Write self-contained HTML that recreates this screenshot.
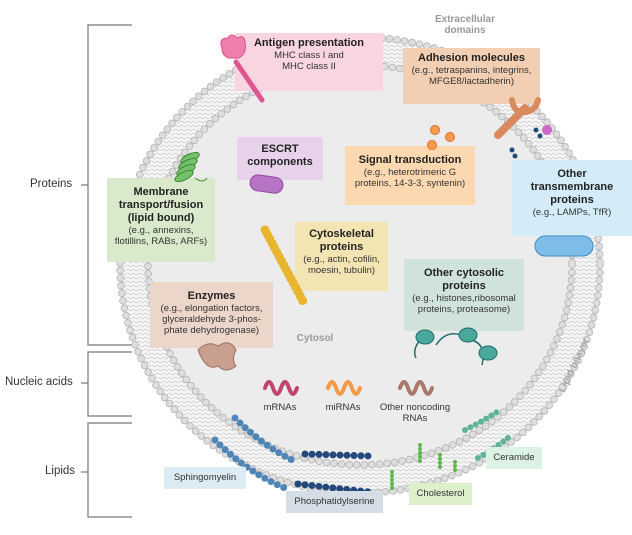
<!DOCTYPE html>
<html><head><meta charset="utf-8"><style>
body{margin:0;width:632px;height:535px;background:#fff;overflow:hidden;font-family:"Liberation Sans",sans-serif;}
svg{position:absolute;left:0;top:0}
.b{position:absolute;text-align:center;color:#333;font-size:9.5px;line-height:11px;box-sizing:border-box;padding-top:4px}
.b b{display:block;font-size:11px;line-height:13px;color:#222}
.l{position:absolute;font-size:11.5px;color:#333}
</style></head><body>
<svg width="632" height="535" viewBox="0 0 632 535">
<defs>
<pattern id="w" width="6" height="4" patternUnits="userSpaceOnUse"><path d="M0 2 Q1.5 0 3 2 T6 2" fill="none" stroke="#bbb" stroke-width="0.6"/></pattern>
</defs>
<g stroke="#777" stroke-width="1.2" fill="none">
<path d="M132 25H88V345H132"/><path d="M81 185H88"/>
<path d="M132 352H88V416H132"/><path d="M81 383H88"/>
<path d="M132 423H88V517H132"/><path d="M81 472H88"/>
</g>
<ellipse cx="360" cy="265" rx="240" ry="228" fill="#f6f6f6"/>
<ellipse cx="360" cy="265" rx="240" ry="228" fill="url(#w)"/>
<ellipse cx="360" cy="265" rx="212" ry="200" fill="#ececec"/>
<ellipse cx="360" cy="265" rx="240" ry="228" fill="none" stroke="#b0b0b0" stroke-width="7.5" stroke-dasharray="0 7.6" stroke-linecap="round"/>
<ellipse cx="360" cy="265" rx="240" ry="228" fill="none" stroke="#dedede" stroke-width="6" stroke-dasharray="0 7.6" stroke-linecap="round"/>
<ellipse cx="360" cy="265" rx="212" ry="200" fill="none" stroke="#b0b0b0" stroke-width="7.5" stroke-dasharray="0 7.6" stroke-linecap="round"/>
<ellipse cx="360" cy="265" rx="212" ry="200" fill="none" stroke="#dedede" stroke-width="6" stroke-dasharray="0 7.6" stroke-linecap="round"/>
<path d="M215 440 Q250 475 290 490" fill="none" stroke="#4f86b5" stroke-width="7" stroke-dasharray="0 7" stroke-linecap="round"/>
<path d="M235 418 Q262 445 292 460" fill="none" stroke="#4f86b5" stroke-width="7" stroke-dasharray="0 7" stroke-linecap="round"/>
<path d="M305 454 L370 456" fill="none" stroke="#24487a" stroke-width="7" stroke-dasharray="0 7" stroke-linecap="round"/>
<path d="M298 484 L370 492" fill="none" stroke="#24487a" stroke-width="7" stroke-dasharray="0 7" stroke-linecap="round"/>
<path d="M465 430 Q485 420 500 410" fill="none" stroke="#5fb39a" stroke-width="6" stroke-dasharray="0 6" stroke-linecap="round"/>
<path d="M478 458 Q495 448 508 438" fill="none" stroke="#5fb39a" stroke-width="6" stroke-dasharray="0 6" stroke-linecap="round"/>
<g fill="none" stroke="#5cb84a" stroke-width="4" stroke-dasharray="0 4" stroke-linecap="round">
<path d="M392 472v18M420 445v18M440 455v16M455 462v12"/>
</g>
</svg>

<div class="l" style="left:30px;top:178px">Proteins</div>
<div class="l" style="left:5px;top:376px">Nucleic acids</div>
<div class="l" style="left:45px;top:465px">Lipids</div>

<div class="b" style="left:410px;top:14px;width:110px;color:#999;font-weight:bold;font-size:10px;padding:0">Extracellular<br>domains</div>
<div class="b" style="left:235px;top:33px;width:148px;height:58px;background:#f9d5e0"><b>Antigen presentation</b>MHC class I and<br>MHC class II</div>
<div class="b" style="left:403px;top:48px;width:137px;height:56px;background:#f2cfb3"><b>Adhesion molecules</b>(e.g., tetraspanins, integrins,<br>MFGE8/lactadherin)</div>
<div class="b" style="left:237px;top:137px;width:86px;height:43px;background:#e6d3ea;padding-top:6px"><b>ESCRT<br>components</b></div>
<div class="b" style="left:345px;top:146px;width:130px;height:59px;background:#fbd8b0;padding-top:8px"><b>Signal transduction</b>(e.g., heterotrimeric G<br>proteins, 14-3-3, syntenin)</div>
<div class="b" style="left:512px;top:160px;width:120px;height:76px;background:#d4ebf8;padding-top:8px"><b>Other<br>transmembrane<br>proteins</b>(e.g., LAMPs, TfR)</div>
<div class="b" style="left:107px;top:178px;width:108px;height:84px;background:#d8eacb;padding-top:8px"><b>Membrane<br>transport/fusion<br>(lipid bound)</b>(e.g., annexins,<br>flotillins, RABs, ARFs)</div>
<div class="b" style="left:295px;top:222px;width:93px;height:69px;background:#f3e4b4;padding-top:6px"><b>Cytoskeletal<br>proteins</b>(e.g., actin, cofilin,<br>moesin, tubulin)</div>
<div class="b" style="left:150px;top:282px;width:123px;height:66px;background:#ecd6ca;padding-top:8px"><b>Enzymes</b>(e.g., elongation factors,<br>glyceraldehyde 3-phos-<br>phate dehydrogenase)</div>
<div class="b" style="left:404px;top:259px;width:120px;height:72px;background:#d0e3db;padding-top:8px"><b>Other cytosolic<br>proteins</b>(e.g., histones,ribosomal<br>proteins, proteasome)</div>
<div class="b" style="left:290px;top:333px;width:50px;color:#999;font-weight:bold;font-size:10px;padding:0">Cytosol</div>
<div class="b" style="left:255px;top:402px;width:50px;padding:0">mRNAs</div>
<div class="b" style="left:318px;top:402px;width:50px;padding:0">miRNAs</div>
<div class="b" style="left:370px;top:402px;width:90px;padding:0">Other noncoding<br>RNAs</div>
<div class="b" style="left:545px;top:360px;color:#aaa;font-weight:bold;font-size:10px;padding:0;transform:rotate(-65deg)">Lipid bilayer</div>
<div class="b" style="left:164px;top:467px;width:82px;height:22px;background:#dcebf4;padding-top:5px">Sphingomyelin</div>
<div class="b" style="left:286px;top:491px;width:97px;height:22px;background:#d5dde6;padding-top:5px">Phosphatidylserine</div>
<div class="b" style="left:409px;top:483px;width:63px;height:22px;background:#dcf0cc;padding-top:5px">Cholesterol</div>
<div class="b" style="left:486px;top:447px;width:56px;height:22px;background:#dcf2e4;padding-top:5px">Ceramide</div>

<svg width="632" height="535" viewBox="0 0 632 535">
<path d="M236 62 L262 100" stroke="#e0568f" stroke-width="5" stroke-linecap="round"/>
<path d="M222 48 q-4-10 6-10 q3-6 9 0 q8-4 8 5 q2 10-6 15 h-10 q-7-2-7-10z" fill="#f07fae" stroke="#d84c88"/>
<path d="M498 135 L525 108" stroke="#d98a5f" stroke-width="8" fill="none" stroke-linecap="round"/>
<path d="M512 100 q2 14 14 12 q10-2 12-12" stroke="#d98a5f" stroke-width="6" fill="none" stroke-linecap="round"/>
<circle cx="547" cy="130" r="5" fill="#cc6acc"/>
<g fill="#24487a"><circle cx="536" cy="130" r="2.5"/><circle cx="540" cy="136" r="2.5"/><circle cx="512" cy="150" r="2.5"/><circle cx="515" cy="156" r="2.5"/></g>
<rect x="250" y="176" width="33" height="16" rx="8" fill="#b774c4" stroke="#8e4a9c" transform="rotate(8 266 184)"/>
<g fill="#f79a4e" stroke="#e0702a"><circle cx="435" cy="130" r="4.5"/><circle cx="450" cy="137" r="4.5"/><circle cx="432" cy="145" r="4.5"/></g>
<g fill="#75c06a" stroke="#3d8a36"><ellipse cx="190" cy="158" rx="10" ry="4" transform="rotate(-25 190 158)"/><ellipse cx="188" cy="164" rx="10" ry="4" transform="rotate(-25 188 164)"/><ellipse cx="186" cy="170" rx="10" ry="4" transform="rotate(-25 186 170)"/><ellipse cx="184" cy="176" rx="10" ry="4" transform="rotate(-25 184 176)"/></g>
<path d="M195 178 q8 6 12 0" stroke="#3d8a36" fill="none"/>
<rect x="535" y="236" width="58" height="20" rx="10" fill="#7fbde8" stroke="#3f8cc7"/>
<path d="M265 230 L305 305" stroke="#e7b52e" stroke-width="9" stroke-dasharray="0 5" stroke-linecap="round"/>
<path d="M198 350 q10-10 20-4 q12-8 18 4 q-5 10 0 16 q-10 8-18 0 q-12 6-20-16z" fill="#c9a090" stroke="#9a6f60"/>
<path d="M436 345 q10-15 25-10 M472 340 q15 5 10 25 M420 340 q-8 10-4 18" stroke="#1f6d70" fill="none" stroke-width="1.5"/>
<g fill="#4aa99a" stroke="#1f6d70"><ellipse cx="425" cy="337" rx="9" ry="7"/><ellipse cx="468" cy="335" rx="9" ry="7"/><ellipse cx="488" cy="353" rx="9" ry="7"/></g>
<g fill="none" stroke-width="4" stroke-linecap="round">
<path d="M265 388 q4-12 8 0 q4 12 8 0 q4-12 8 0 q4 12 8 0" stroke="#c0456a"/>
<path d="M328 388 q4-12 8 0 q4 12 8 0 q4-12 8 0 q4 12 8 0" stroke="#f39a4a"/>
<path d="M400 388 q4-12 8 0 q4 12 8 0 q4-12 8 0 q4 12 8 0" stroke="#a87868"/>
</g>
</svg>
</body></html>
